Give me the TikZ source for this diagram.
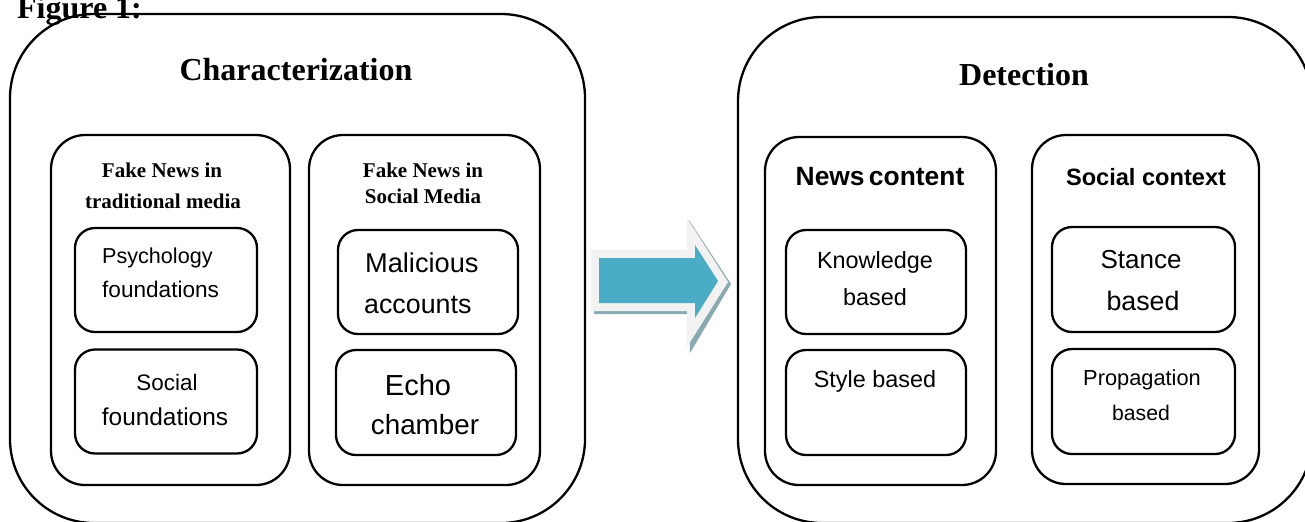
\documentclass[tikz,border=0pt]{standalone}
\usepackage{fontspec}
\setmainfont{Liberation Serif}
\setsansfont{Liberation Sans}
\definecolor{arrowteal}{HTML}{4BACC6}
\definecolor{arrowrim}{HTML}{F2F2F2}
\definecolor{arrowshade}{HTML}{8AAAB2}
\begin{document}
\begin{tikzpicture}[x=0.5pt,y=-0.5pt,line width=1.15pt,
  outerbox/.style={draw,rounded corners=42pt,inner sep=0pt},
  midbox/.style={draw,rounded corners=17pt,inner sep=0pt},
  innerbox/.style={draw,rounded corners=10pt,inner sep=0pt,minimum width=91pt,minimum height=52pt},
  bigtitle/.style={font=\bfseries\fontsize{16}{19}\selectfont,anchor=base,inner sep=0pt},
  smalltitle/.style={font=\bfseries\fontsize{10.5}{12}\selectfont,anchor=base,inner sep=0pt},
  sanstitle/.style={font=\sffamily\bfseries\fontsize{#1}{14}\selectfont,anchor=base,inner sep=0pt},
  label/.style={font=\sffamily\fontsize{#1}{14}\selectfont,anchor=base,inner sep=0pt}]
\useasboundingbox (0,0) rectangle (1305,521);
\clip (0,0) rectangle (1305,521);

% outer boxes
\node[outerbox,minimum width=287.5pt,minimum height=254.5pt] (charbox) at (297.5,268.5) {};
\node[outerbox,minimum width=287pt,minimum height=253pt] (detbox) at (1025,270) {};

% middle boxes
\node[midbox,minimum width=119.5pt,minimum height=175pt] (tradbox) at (170.5,310) {};
\node[midbox,minimum width=115.5pt,minimum height=175pt] (smbox) at (424.5,310) {};
\node[midbox,minimum width=115.5pt,minimum height=174pt] (ncbox) at (880.5,311) {};
\node[midbox,minimum width=113.5pt,minimum height=174.5pt] (scbox) at (1145.5,309.5) {};

% inner boxes
\node[innerbox] (psych) at (166,280) {};
\node[innerbox] (socf) at (166,401.5) {};
\node[innerbox,minimum width=90pt] (malic) at (428,282) {};
\node[innerbox,minimum width=90pt,minimum height=52.5pt] (echo) at (426,402.5) {};
\node[innerbox,minimum width=90pt] (know) at (876,282) {};
\node[innerbox,minimum width=90pt,minimum height=52.5pt] (style) at (876,402.5) {};
\node[innerbox,minimum width=91.5pt,minimum height=52.5pt] (stance) at (1143.5,279.5) {};
\node[innerbox,minimum width=91.5pt,minimum height=52.5pt] (prop) at (1143.5,401.5) {};

% titles
\node[bigtitle,anchor=base west] (fig) at (16,18) {Figure 1:};
\node[bigtitle] (chartitle) at (296,80) {Characterization};
\node[bigtitle] (dettitle) at (1024,85) {Detection};

\node[smalltitle] (trad1) at (162,177) {Fake News in};
\node[smalltitle] (trad2) at (163,208) {traditional media};
\node[smalltitle] (sm1) at (423,177) {Fake News in};
\node[smalltitle] (sm2) at (423,203) {Social Media};

\node[sanstitle=13.2] (nctitle) at (880,185) {News\hspace{-1.5pt} content};
\node[sanstitle=11.8] (sctitle) at (1146,185) {Social context};

% inner labels
\node[label=10.8,anchor=base west] (psych1) at (101,263) {Psychology};
\node[label=11.3,anchor=base west] (psych2) at (101,297) {foundations};
\node[label=11.2] (socf1) at (167,390) {Social};
\node[label=12.2] (socf2) at (165,425) {foundations};
\node[label=13.6,anchor=base west] (malic1) at (364,272) {Malicious};
\node[label=13.4,anchor=base west] (malic2) at (363,313) {accounts};
\node[label=14.5] (echo1) at (418,395) {Echo};
\node[label=13.9] (echo2) at (425,434) {chamber};
\node[label=11.7] (know1) at (875,268) {Knowledge};
\node[label=11.7] (know2) at (875,305) {based};
\node[label=11.7] (style1) at (875,387) {Style based};
\node[label=13] (stance1) at (1141,268) {Stance};
\node[label=13.4] (stance2) at (1143,310) {based};
\node[label=10.9] (prop1) at (1142,385) {Propagation};
\node[label=10.6] (prop2) at (1141,420) {based};

% block arrow with rim and shadow
\fill[arrowshade] (594,253) -- (689,253) -- (689,220) -- (731,284) -- (690,353) -- (689,314) -- (594,314) -- cycle;
\fill[arrowrim] (591,250) -- (687,250) -- (687,218) -- (728,282) -- (687,347) -- (687,311) -- (591,311) -- cycle;
\fill[arrowteal] (599,258) -- (695,258) -- (695,245) -- (718,281) -- (695,318) -- (695,303) -- (599,303) -- cycle;
\end{tikzpicture}
\end{document}
